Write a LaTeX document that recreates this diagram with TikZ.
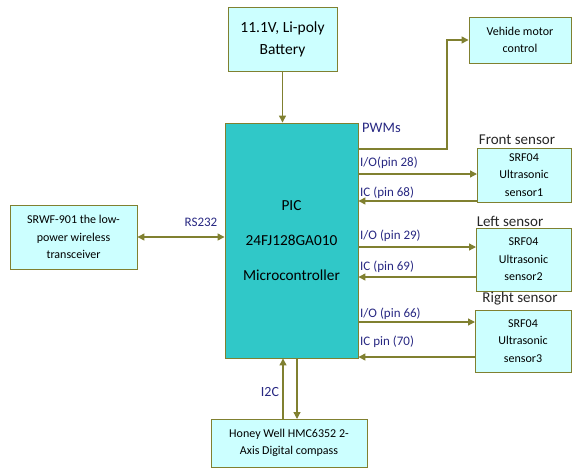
\documentclass[tikz,border=0pt]{standalone}
\usepackage{fontspec}
\setmainfont{Carlito}
\usetikzlibrary{arrows.meta}
\definecolor{boxfill}{RGB}{204,255,255}
\definecolor{olivec}{RGB}{128,128,48}
\definecolor{picfill}{RGB}{48,200,200}
\definecolor{lblue}{RGB}{40,40,130}
\begin{document}
\begin{tikzpicture}[x=1pt,y=-1pt,
  box/.style={draw=olivec,line width=0.9pt,fill=boxfill,align=center,inner sep=0pt,
    font=\fontsize{12}{17.5}\selectfont},
  conn/.style={draw=olivec,line width=1.3pt},
  arr/.style={conn,-{Triangle[length=7pt,width=7pt]}},
  barr/.style={conn,{Triangle[length=7pt,width=7pt]}-{Triangle[length=7pt,width=7pt]}},
  pin/.style={text=lblue,font=\fontsize{13}{14}\selectfont,anchor=west,inner sep=0pt},
  slabel/.style={text=black!85,font=\fontsize{15}{16}\selectfont,inner sep=0pt}]
\useasboundingbox (0,0) rectangle (573,469);
% boxes
\node[box,minimum width=109pt,minimum height=64pt,font=\fontsize{15.5}{22}\selectfont] (bat) at (282.5,39) {11.1V, Li-poly\\Battery};
\node[box,fill=picfill,minimum width=133pt,minimum height=235pt,font=\fontsize{15.3}{35}\selectfont] (pic) at (291.5,240.5) {PIC\\24FJ128GA010\\Microcontroller};
\node[box,minimum width=102pt,minimum height=46pt] (veh) at (520,40) {Vehide motor\\control};
\node[box,minimum width=94pt,minimum height=54pt] (s1) at (524,175) {SRF04\\Ultrasonic\\sensor1};
\node[box,minimum width=95pt,minimum height=63pt] (s2) at (523.5,259.5) {SRF04\\Ultrasonic\\sensor2};
\node[box,minimum width=96pt,minimum height=62pt] (s3) at (523,341) {SRF04\\Ultrasonic\\sensor3};
\node[box,minimum width=127pt,minimum height=64pt] (rf) at (73.5,237) {SRWF-901 the low-\\power wireless\\transceiver};
\node[box,minimum width=156pt,minimum height=48pt] (cmp) at (289,443) {Honey Well HMC6352 2-\\Axis Digital compass};
% coordinates
\coordinate (pw) at (447,149);
\coordinate (io1) at (477,174);
\coordinate (ic1) at (477,201);
\coordinate (io2) at (476,247);
\coordinate (ic2) at (476,277);
\coordinate (io3) at (475,322);
\coordinate (ic3) at (475,357);
\coordinate (cu) at (283,419);
\coordinate (cd) at (297,419);
% connectors
\draw[arr] (bat.south) -- (pic.north -| bat.south);
\draw[arr] (pic.east |- pw) -- (pw) |- (veh.west);
\draw[arr] (pic.east |- io1) -- (io1);
\draw[arr] (ic1) -- (pic.east |- ic1);
\draw[arr] (pic.east |- io2) -- (io2);
\draw[arr] (ic2) -- (pic.east |- ic2);
\draw[arr] (pic.east |- io3) -- (io3);
\draw[arr] (ic3) -- (pic.east |- ic3);
\draw[barr] (rf.east) -- (pic.west |- rf.east);
\draw[arr] (cu) -- (pic.south -| cu);
\draw[arr] (pic.south -| cd) -- (cd);
% labels
\node[pin,font=\fontsize{14.5}{16}\selectfont] (lpwm) at (362,128) {PWMs};
\node[pin] (l1) at (360,163) {I/O(pin 28)};
\node[pin] (l2) at (360,193) {IC (pin 68)};
\node[pin] (l3) at (360,236) {I/O (pin 29)};
\node[pin] (l4) at (360,267) {IC (pin 69)};
\node[pin] (l5) at (360,314) {I/O (pin 66)};
\node[pin] (l6) at (360,342) {IC pin (70)};
\node[pin,anchor=center] (lrs) at (201,222) {RS232};
\node[pin,anchor=center,font=\fontsize{14}{15}\selectfont] (li2c) at (270,392) {I2C};
\node[slabel] (fs) at (517,140) {Front sensor};
\node[slabel] (ls) at (510,221) {Left sensor};
\node[slabel] (rs) at (520,299) {Right sensor};
\end{tikzpicture}
\end{document}
